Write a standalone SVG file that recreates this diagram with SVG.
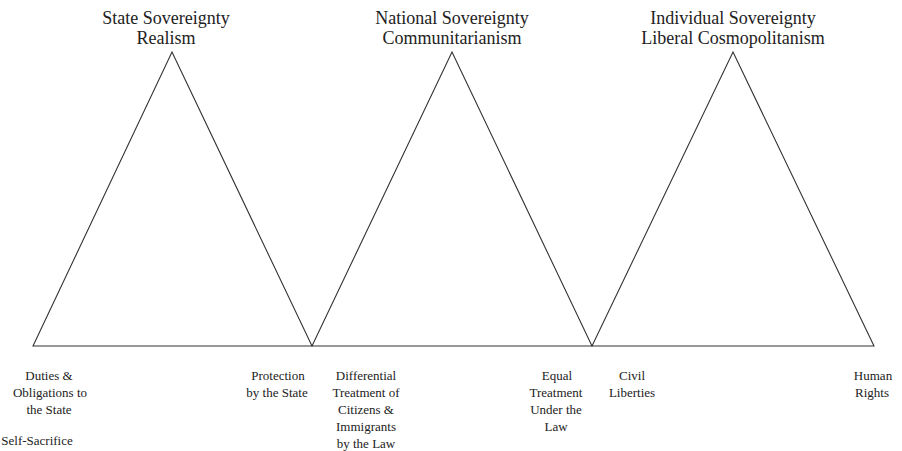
<svg xmlns="http://www.w3.org/2000/svg" width="902" height="451" viewBox="0 0 902 451">
<style>
text{font-family:'Liberation Serif','Tinos','Times New Roman','DejaVu Serif',serif;fill:#222;text-anchor:middle}
.h{font-size:18px}
.l{font-size:13px}
.e{fill:none;stroke:#333;stroke-width:1.1}
</style>
<rect width="902" height="451" fill="#fff"/>
<g id="connectors">
<path class="e" d="M33,346 L172,52 L312,346 L452,52 L592,346 L733,52 L874,346 Z"/>
</g>
<g id="node-state">
<text class="h" x="166" y="24">State Sovereignty</text>
<text class="h" x="166" y="44">Realism</text>
</g>
<g id="node-national">
<text class="h" x="452" y="24">National Sovereignty</text>
<text class="h" x="452" y="44">Communitarianism</text>
</g>
<g id="node-individual">
<text class="h" x="733" y="24">Individual Sovereignty</text>
<text class="h" x="733" y="44">Liberal Cosmopolitanism</text>
</g>
<g id="label-duties">
<text class="l" x="49" y="380">Duties &amp;</text>
<text class="l" x="50" y="397">Obligations to</text>
<text class="l" x="49" y="414">the State</text>
<text class="l" x="37" y="445">Self-Sacrifice</text>
</g>
<g id="label-protection">
<text class="l" x="278" y="380">Protection</text>
<text class="l" x="277" y="397">by the State</text>
</g>
<g id="label-differential">
<text class="l" x="366" y="380">Differential</text>
<text class="l" x="366" y="397">Treatment of</text>
<text class="l" x="366" y="414">Citizens &amp;</text>
<text class="l" x="366" y="431">Immigrants</text>
<text class="l" x="366" y="448">by the Law</text>
</g>
<g id="label-equal">
<text class="l" x="557" y="380">Equal</text>
<text class="l" x="556" y="397">Treatment</text>
<text class="l" x="556" y="414">Under the</text>
<text class="l" x="556" y="431">Law</text>
</g>
<g id="label-civil">
<text class="l" x="632" y="380">Civil</text>
<text class="l" x="632" y="397">Liberties</text>
</g>
<g id="label-human">
<text class="l" x="873" y="380">Human</text>
<text class="l" x="872" y="397">Rights</text>
</g>
</svg>
